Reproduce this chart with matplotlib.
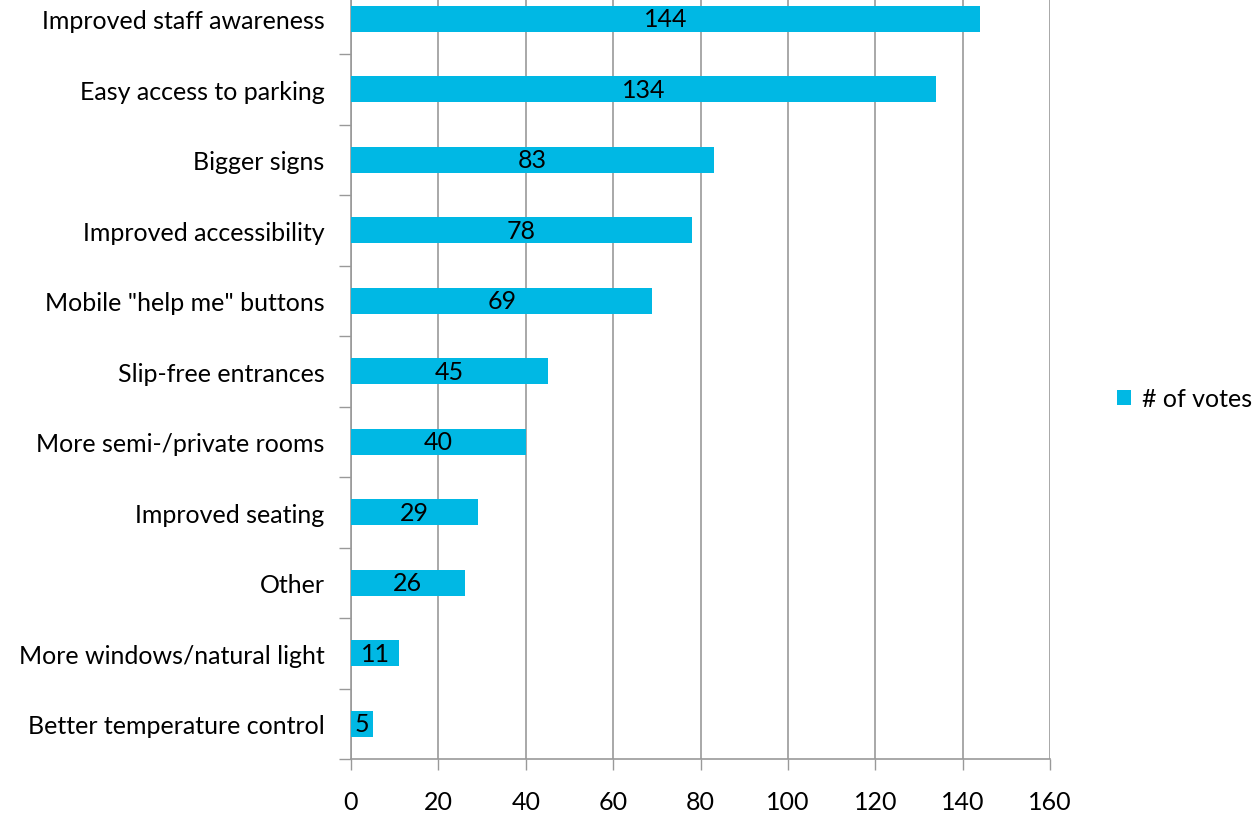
import matplotlib
matplotlib.use("Agg")
import matplotlib.pyplot as plt
from matplotlib.patches import Patch

plt.rcParams['font.family'] = ['Lato', 'DejaVu Sans']

categories = ['Improved staff awareness', 'Easy access to parking', 'Bigger signs',
              'Improved accessibility', 'Mobile "help me" buttons', 'Slip-free entrances',
              'More semi-/private rooms', 'Improved seating', 'Other',
              'More windows/natural light', 'Better temperature control']
votes = [144, 134, 83, 78, 69, 45, 40, 29, 26, 11, 5]
xticks = [0, 20, 40, 60, 80, 100, 120, 140, 160]

bar_color = '#00B8E4'
fs = 18

fig = plt.figure(figsize=(12.59, 8.2), dpi=100)
ax = fig.add_axes([351 / 1259, 60 / 820, 699 / 1259, 775.5 / 820])

n = len(categories)
ypos = list(range(n))[::-1]
ax.barh(ypos, votes, height=0.37, color=bar_color, zorder=3)

for y, v in zip(ypos, votes):
    ax.text(v / 2, y, str(v), ha='center', va='center', fontsize=fs, color='black', zorder=4)

ax.set_xlim(0, 160)
ax.set_ylim(-0.5, n - 0.5)
ax.set_xticks(xticks)
ax.set_xticklabels([str(t) for t in xticks], fontsize=fs)
ax.tick_params(axis='x', length=8, width=1, color='#999999', pad=14)

# category labels at band centres, tick marks at band boundaries
ax.set_yticks(ypos)
ax.set_yticklabels(categories, fontsize=fs)
ax.tick_params(axis='y', which='major', length=0, pad=19)
ax.set_yticks([i - 0.5 for i in range(n + 1)], minor=True)
ax.tick_params(axis='y', which='minor', length=9, width=1, color='#999999')

ax.grid(axis='x', color='#999999', linewidth=1.2, zorder=0)
for side in ['top', 'right']:
    ax.spines[side].set_visible(False)
ax.spines['left'].set_color('#999999')
ax.spines['bottom'].set_color('#999999')
ax.spines['left'].set_linewidth(1.2)
ax.spines['bottom'].set_linewidth(1.2)

handle = Patch(facecolor=bar_color, edgecolor='none')
fig.legend([handle], ['# of votes'], loc='center left', bbox_to_anchor=(1117 / 1259, 1 - 400 / 820),
           frameon=False, fontsize=fs, handlelength=0.55, handleheight=0.55, handletextpad=0.45,
           borderpad=0, borderaxespad=0)

fig.savefig('out.png', dpi=100)
